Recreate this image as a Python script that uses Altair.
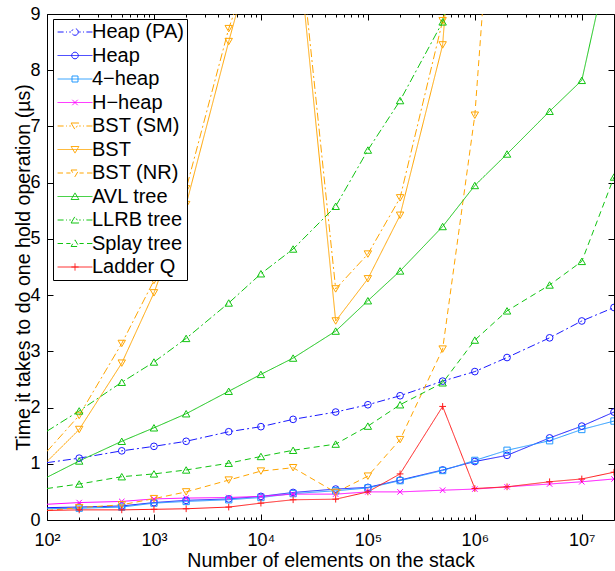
import altair as alt
import pandas as pd

FONT = "Liberation Sans"

# ---------------- data ----------------
x_values = [100, 200, 500, 1e3, 2e3, 5e3, 1e4, 2e4, 5e4, 1e5, 2e5, 5e5, 1e6, 2e6, 5e6, 1e7, 2e7]

series_names = ["Heap (PA)", "Heap", "4\u2212heap", "H\u2212heap", "BST (SM)", "BST", "BST (NR)",
                "AVL tree", "LLRB tree", "Splay tree", "Ladder Q"]

heap_pa = [1.02, 1.10, 1.23, 1.31, 1.40, 1.57, 1.66, 1.79, 1.92, 2.05, 2.21, 2.47, 2.64, 2.89, 3.24, 3.54, 3.78]
heap = [0.22, 0.23, 0.25, 0.31, 0.35, 0.375, 0.42, 0.49, 0.55, 0.58, 0.71, 0.89, 1.04, 1.15, 1.46, 1.67, 1.92]
heap4 = [0.20, 0.21, 0.23, 0.30, 0.33, 0.36, 0.40, 0.47, 0.52, 0.57, 0.70, 0.88, 1.06, 1.24, 1.41, 1.61, 1.76]
hheap = [0.28, 0.31, 0.33, 0.375, 0.39, 0.40, 0.42, 0.46, 0.46, 0.50, 0.50, 0.53, 0.55, 0.59, 0.64, 0.68, 0.73]
bst_sm = [1.22, 1.86, 3.14, 4.26, 5.89, 8.74, 10.4, 11.4, 4.11, 4.73, 5.73, 8.88, 12.0]
bst = [1.04, 1.61, 2.79, 4.04, 5.61, 8.51, 10.6, 11.1, 3.54, 4.29, 5.42, 8.45, 16.0]
bst_nr = [0.17, 0.22, 0.27, 0.38, 0.50, 0.71, 0.87, 0.93, 0.49, 0.78, 1.43, 3.04, 7.20, 15.0]
avl = [0.76, 1.05, 1.40, 1.64, 1.89, 2.29, 2.59, 2.88, 3.36, 3.90, 4.43, 5.22, 5.95, 6.51, 7.27, 7.82, 10.4]
llrb = [1.58, 1.94, 2.45, 2.81, 3.23, 3.86, 4.38, 4.82, 5.58, 6.58, 7.46, 8.86, 11.5]
splay = [0.56, 0.64, 0.77, 0.82, 0.89, 1.01, 1.13, 1.24, 1.35, 1.67, 2.05, 2.44, 3.20, 3.72, 4.18, 4.60, 6.10]
ladder = [0.17, 0.18, 0.18, 0.19, 0.20, 0.23, 0.30, 0.36, 0.37, 0.50, 0.82, 2.02, 0.56, 0.59, 0.68, 0.73, 0.85]

series_values = [heap_pa, heap, heap4, hheap, bst_sm, bst, bst_nr, avl, llrb, splay, ladder]

x_tick_values = [100, 200, 300, 400, 500, 600, 700, 800, 900,
                 1e3, 2e3, 3e3, 4e3, 5e3, 6e3, 7e3, 8e3, 9e3,
                 1e4, 2e4, 3e4, 4e4, 5e4, 6e4, 7e4, 8e4, 9e4,
                 1e5, 2e5, 3e5, 4e5, 5e5, 6e5, 7e5, 8e5, 9e5,
                 1e6, 2e6, 3e6, 4e6, 5e6, 6e6, 7e6, 8e6, 9e6, 1e7]
y_tick_values = [0, 1, 2, 3, 4, 5, 6, 7, 8, 9]

# ---------------- styles ----------------
BLUE, LBLUE, MAG, ORA, GRN, RED = "#1a1aff", "#2299ff", "#ff00ff", "#ffa500", "#11c411", "#ff1a1a"
series_colors = [BLUE, BLUE, LBLUE, MAG, ORA, ORA, ORA, GRN, GRN, GRN, RED]
SOLID, DASHED, DASHDOT = [1, 0], [6, 4], [8, 3, 2, 3]
series_dash = [DASHDOT, SOLID, SOLID, SOLID, DASHDOT, SOLID, DASHED, SOLID, DASHDOT, DASHED, SOLID]

X_PATH = "M-1,-1L1,1M-1,1L1,-1"
PLUS_PATH = "M-1,0H1M0,-1V1"
marker_shapes = ["circle", "circle", "square", X_PATH, "triangle-down", "triangle-down", "triangle-down",
                 "triangle-up", "triangle-up", "triangle-up", PLUS_PATH]
marker_sizes = [45, 45, 40, 30, 55, 55, 55, 55, 55, 55, 45]

# legend symbols: line sample + marker (unit = sqrt(symbolSize)/2 px)
L_SOLID = "M-2.9,0H2.9"
L_DASHED = "M-2.9,0H-2.0M-1.45,0H-0.75M0.75,0H1.45M2.0,0H2.9"
L_DASHDOT = "M-2.9,0H-1.9M-1.5,0H-1.35M-0.95,0H-0.7M0.7,0H0.95M1.35,0H1.5M1.9,0H2.9"
M_CIRCLE = "M0.55,0A0.55,0.55,0,1,1,-0.55,0A0.55,0.55,0,1,1,0.55,0Z"
M_SQUARE = "M-0.5,-0.5H0.5V0.5H-0.5Z"
M_X = "M-0.45,-0.45L0.45,0.45M-0.45,0.45L0.45,-0.45"
M_TDOWN = "M-0.65,-0.5L0.65,-0.5L0,0.6Z"
M_TUP = "M-0.65,0.5L0.65,0.5L0,-0.6Z"
M_PLUS = "M-0.6,0H0.6M0,-0.6V0.6"
legend_paths = [L_DASHDOT + M_CIRCLE, L_SOLID + M_CIRCLE, L_SOLID + M_SQUARE, L_SOLID + M_X,
                L_DASHDOT + M_TDOWN, L_SOLID + M_TDOWN, L_DASHED + M_TDOWN,
                L_SOLID + M_TUP, L_DASHDOT + M_TUP, L_DASHED + M_TUP, L_SOLID + M_PLUS]

# ---------------- table ----------------
rows = []
for i, (name, vals) in enumerate(zip(series_names, series_values)):
    for xv, yv in zip(x_values, vals):
        rows.append({"series": name, "x": xv, "y": yv, "idx": i})
df = pd.DataFrame(rows)

x_scale = alt.Scale(type="log", domain=[100, 2e7], nice=False)
y_scale = alt.Scale(domain=[0, 9], nice=False)
color_scale = alt.Scale(domain=series_names, range=series_colors)
dash_scale = alt.Scale(domain=series_names, range=series_dash)
legend_shape_scale = alt.Scale(domain=series_names, range=legend_paths)

MAJOR_TEST = "abs(log(datum.value)/LN10 - round(log(datum.value)/LN10)) < 0.001"
LABEL_EXPR = (MAJOR_TEST + " ? '10' + ['\u2070','\u00b9','\u00b2','\u00b3','\u2074','\u2075','\u2076','\u2077','\u2078','\u2079']"
              "[round(log(datum.value)/LN10)] : ''")


def build(mode):
    if mode == 0:
        xt = {"condition": {"test": MAJOR_TEST, "value": -6}, "value": -3}
        yt = {"expr": "-6"}
        xpad, ypad = 17, 13
    elif mode == 1:
        xt = {"expr": "-5"}
        yt = {"expr": "-5"}
        xpad, ypad = 16, 12
    else:
        xt, yt = 5, 5
        xpad, ypad = 6, 2

    common = dict(domain=False, grid=False, tickColor="black", tickWidth=1,
                  labelFont=FONT, labelFontSize=18, labelColor="black",
                  titleFont=FONT, titleFontSize=19.6, titleColor="black", titleFontWeight="normal",
                  labelFlush=False, labelOverlap=False)

    x_bottom = alt.Axis(orient="bottom", values=x_tick_values, tickSize=xt, labelExpr=LABEL_EXPR,
                        labelPadding=xpad, title="Number of elements on the stack",
                        titleY=46, titleBaseline="alphabetic", **common)
    y_left = alt.Axis(orient="left", values=y_tick_values, tickSize=yt, labelPadding=ypad,
                      title="Time it takes to do one hold operation (\u00b5s)",
                      titleX=-18, titleBaseline="alphabetic", **common)
    x_top = alt.Axis(orient="top", values=x_tick_values, tickSize=xt, labels=False, title=None,
                     domain=False, grid=False, tickColor="black", tickWidth=1)
    y_right = alt.Axis(orient="right", values=y_tick_values, tickSize=yt, labels=False, title=None,
                       domain=False, grid=False, tickColor="black", tickWidth=1)

    legend = alt.Legend(orient="none", legendX=6, legendY=5, title=None, padding=3,
                        strokeColor="black", fillColor="white", symbolSize=144,
                        symbolStrokeWidth=1, symbolOffset=9, labelOffset=7,
                        labelFont=FONT, labelFontSize=20, labelColor="black",
                        rowPadding=3.5, symbolOpacity=1, labelLimit=300)

    # legend layer first so its (enabled) legend wins the merge with the line layer
    leg = alt.Chart(df).transform_filter("datum.x < 0").mark_point(
        filled=False, opacity=1, strokeWidth=1).encode(
        x=alt.X("x:Q", scale=x_scale, axis=x_top),
        y=alt.Y("y:Q", scale=y_scale, axis=y_right),
        color=alt.Color("series:N", scale=color_scale, legend=legend),
        shape=alt.Shape("series:N", scale=legend_shape_scale, legend=legend),
    )

    lines = alt.Chart(df).mark_line(strokeWidth=1, clip=True).encode(
        x=alt.X("x:Q", scale=x_scale, axis=x_bottom),
        y=alt.Y("y:Q", scale=y_scale, axis=y_left),
        color=alt.Color("series:N", scale=color_scale),
        strokeDash=alt.StrokeDash("series:N", scale=dash_scale, legend=None),
        detail="series:N",
    )

    layers = [leg, lines]
    for i, name in enumerate(series_names):
        pts = alt.Chart(df).transform_filter(
            (alt.datum.idx == i) & (alt.datum.x > 150)
        ).mark_point(shape=marker_shapes[i], filled=False, size=marker_sizes[i], strokeWidth=1,
                     color=series_colors[i], opacity=1, clip=True).encode(
            x=alt.X("x:Q", scale=x_scale, axis=None),
            y=alt.Y("y:Q", scale=y_scale, axis=None),
        )
        layers.append(pts)

    chart = alt.layer(*layers).resolve_axis(x="independent", y="independent").properties(
        width=567, height=506,
        padding={"left": 47, "top": 14, "right": 1, "bottom": 51},
        autosize=alt.AutoSizeParams(type="none"),
        background="white",
    ).configure_view(stroke="black", strokeWidth=1)
    return chart


for mode in (0, 1, 2):
    try:
        chart = build(mode)
        chart.save("out.html", embed_options={"renderer": "svg", "actions": False})
        break
    except Exception as exc:
        print("mode", mode, "failed:", exc)
